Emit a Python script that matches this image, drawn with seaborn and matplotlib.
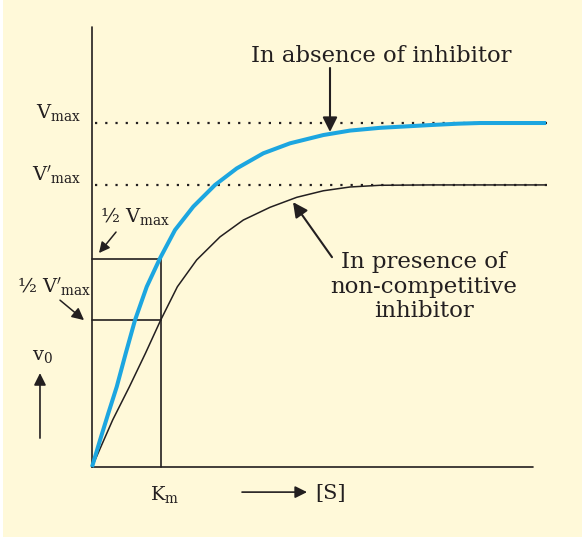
import numpy as np
import pandas as pd
import seaborn as sns
import matplotlib.pyplot as plt

# readings: [S] in units of Km, v0 in units of Vmax
s_uninhib = [0, 0.116, 0.236, 0.358, 0.488, 0.623, 0.793, 0.986, 1.203, 1.468, 1.783, 2.097,
             2.483, 2.870, 3.352, 3.739, 4.174, 4.899, 5.3, 5.623, 6.58]
v_uninhib = [0, 0.078, 0.156, 0.233, 0.330, 0.427, 0.524, 0.607, 0.689, 0.757, 0.820, 0.868,
             0.912, 0.941, 0.965, 0.978, 0.986, 0.994, 0.998, 1.0, 1.0]
s_noncomp = [0, 0.300, 0.541, 0.773, 0.995, 1.237, 1.517, 1.855, 2.193, 2.580, 2.967, 3.352,
             3.739, 4.174, 4.899, 6.58]
v_noncomp = [0, 0.137, 0.233, 0.330, 0.427, 0.524, 0.602, 0.669, 0.718, 0.755, 0.784, 0.803,
             0.814, 0.819, 0.820, 0.820]

vmax = 1.0
vmax_inh = 0.82
half_vmax = 0.605
half_vmax_inh = 0.427
km = 1.0

cream = "#FFF9D9"
blue = "#1CA6E0"
ink = "#231F20"

sns.set_style("white", {"axes.facecolor": cream})
plt.rcParams["font.family"] = ["DejaVu Serif"]
plt.rcParams["mathtext.fontset"] = "dejavuserif"

fig = plt.figure(figsize=(5.82, 5.42), dpi=100, facecolor="white")
ax = fig.add_axes([3 / 582, 5 / 542, 579 / 582, 537 / 542])
ax.set_xlim(-1.290, 7.101)
ax.set_ylim(-0.2035, 1.3576)
ax.set_xticks([])
ax.set_yticks([])
sns.despine(ax=ax, left=True, bottom=True, right=True, top=True)

# axes lines
ax.plot([0, 0], [0, 1.279], color=ink, lw=1.2)
ax.plot([0, 6.39], [0, 0], color=ink, lw=1.2)

# dotted Vmax levels
ax.plot([0.04, 6.62], [vmax, vmax], color=ink, lw=1.6, ls=(0, (1, 3.6)))
ax.plot([0.04, 6.62], [vmax_inh, vmax_inh], color=ink, lw=1.6, ls=(0, (1, 3.6)))

# Km box
ax.plot([0, km, km], [half_vmax, half_vmax, 0], color=ink, lw=1.2)
ax.plot([0, km], [half_vmax_inh, half_vmax_inh], color=ink, lw=1.2)

sns.lineplot(x=s_noncomp, y=v_noncomp, color=ink, lw=1.1, ax=ax,
             solid_joinstyle="round", solid_capstyle="round")
sns.lineplot(x=s_uninhib, y=v_uninhib, color=blue, lw=2.9, ax=ax,
             solid_joinstyle="round", solid_capstyle="butt")

arrow = dict(arrowstyle="-|>", color=ink, lw=1.5, mutation_scale=22, shrinkA=0, shrinkB=0)

ax.annotate("", xy=(3.449, 0.974), xytext=(3.449, 1.16), arrowprops=arrow)
ax.text(4.188, 1.177, "In absence of inhibitor", ha="center", va="baseline", fontsize=16.4, color=ink)

ax.annotate("", xy=(2.913, 0.770), xytext=(3.478, 0.610), arrowprops=arrow)
for i, line in enumerate(["In presence of", "non-competitive", "inhibitor"]):
    ax.text(4.81, 0.578 - i * 0.0715, line, ha="center", va="baseline", fontsize=16.5, color=ink)

ax.text(-0.159, 1.015, r"$\mathrm{V_{max}}$", ha="right", va="baseline", fontsize=14, color=ink)
ax.text(-0.159, 0.831, r"$\mathrm{V'_{max}}$", ha="right", va="baseline", fontsize=14, color=ink)

ax.text(0.116, 0.712, r"½ $\mathrm{V_{max}}$", ha="left", va="baseline", fontsize=14, color=ink)
ax.annotate("", xy=(0.101, 0.622), xytext=(0.348, 0.683),
            arrowprops=dict(arrow, lw=1.1, mutation_scale=16))

ax.text(-1.087, 0.509, r"½ $\mathrm{V'_{max}}$", ha="left", va="baseline", fontsize=14, color=ink)
ax.annotate("", xy=(-0.116, 0.427), xytext=(-0.464, 0.485),
            arrowprops=dict(arrow, lw=1.1, mutation_scale=18))

ax.text(-0.87, 0.311, r"$\mathrm{v_0}$", ha="left", va="baseline", fontsize=14, color=ink)
ax.annotate("", xy=(-0.754, 0.273), xytext=(-0.754, 0.084),
            arrowprops=dict(arrow, lw=1.2, mutation_scale=18))

ax.text(1.058, -0.096, r"$\mathrm{K_m}$", ha="center", va="baseline", fontsize=14, color=ink)
ax.annotate("", xy=(3.116, -0.073), xytext=(2.174, -0.073),
            arrowprops=dict(arrow, lw=1.2, mutation_scale=18))
ax.text(3.232, -0.076, "[S]", ha="left", va="center", fontsize=15, color=ink)

fig.savefig("out.png", dpi=100, facecolor="white")
